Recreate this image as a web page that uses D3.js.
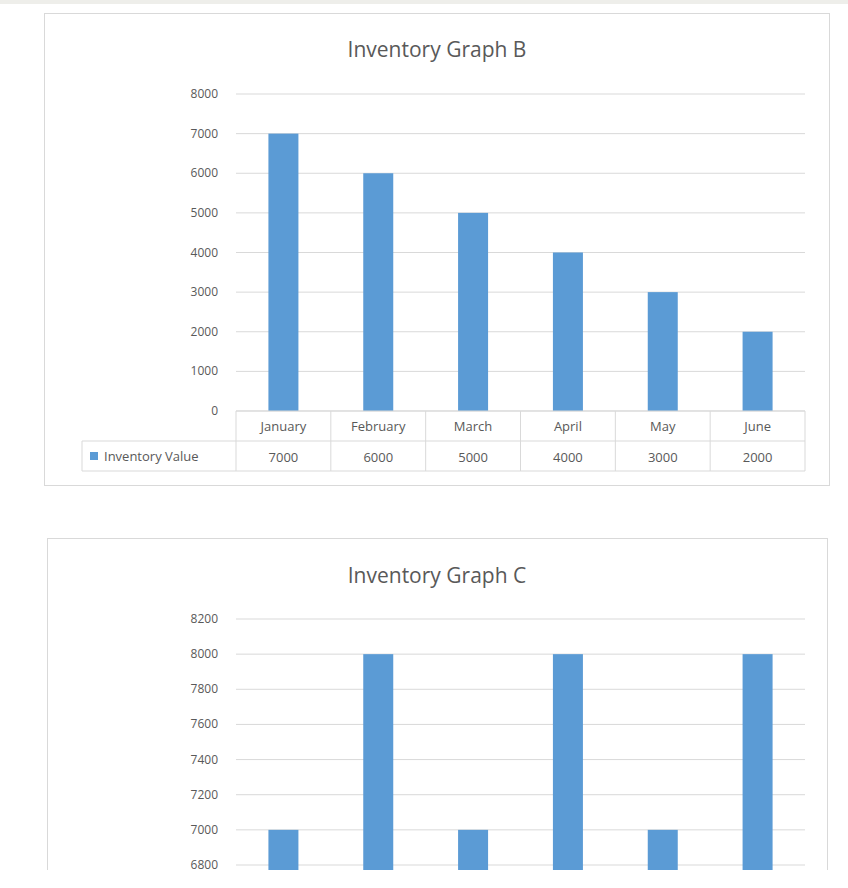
<!DOCTYPE html><html><head><meta charset="utf-8"><script src="https://cdn.jsdelivr.net/npm/d3@7"></script>
<style>body{margin:0;background:#fff}svg{display:block;font-family:"Open Sans",Calibri,sans-serif}</style></head><body><svg id="s" width="848" height="888"></svg>
<script>
const months=["January","February","March","April","May","June"];
const valuesB=[7000,6000,5000,4000,3000,2000];
const valuesC=[7000,8000,7000,8000,7000,8000];
const ticksB=[0,1000,2000,3000,4000,5000,6000,7000,8000];
const ticksC=[6800,7000,7200,7400,7600,7800,8000,8200];
const seriesName="Inventory Value";
const blue="#5b9bd5",grid="#d9d9d9",txt="#595959";
const svg=d3.select("#s");
svg.append("rect").attr("x",0).attr("y",0).attr("width",848).attr("height",4).attr("fill","#eeeeea");
const clip=svg.append("clipPath").attr("id","cp").append("rect").attr("x",0).attr("y",0).attr("width",848).attr("height",870);
const g=svg.append("g").attr("clip-path","url(#cp)");
function chart(box,title,titleY,vals,ticks,domain,yr,table){
  g.append("rect").attr("x",box[0]+.5).attr("y",box[1]+.5).attr("width",box[2]).attr("height",box[3]).attr("fill","#fff").attr("stroke",grid);
  g.append("text").attr("x",437).attr("y",titleY).attr("text-anchor","middle").attr("font-size",21).attr("fill",txt).text(title);
  const x=d3.scaleBand().domain(months).range([236,805]);
  const y=d3.scaleLinear().domain(domain).range(yr);
  ticks.forEach(t=>{
    g.append("line").attr("x1",236).attr("x2",805).attr("y1",y(t)).attr("y2",y(t)).attr("stroke",grid);
    g.append("text").attr("x",218).attr("y",y(t)+4).attr("text-anchor","end").attr("font-size",12).attr("fill",txt).text(t);
  });
  const bw=30;
  g.selectAll(null).data(vals).enter().append("rect").attr("fill",blue)
   .attr("x",(d,i)=>x(months[i])+x.bandwidth()/2-bw/2).attr("width",bw)
   .attr("y",d=>y(d)).attr("height",d=>Math.max(0,y(domain[0]<=0?0:domain[0]-1000)-y(d)));
  if(table){
    const y0=y(0),y1=y0+30,y2=y0+60;
    const L=(a,b,c,d)=>g.append("line").attr("x1",a).attr("y1",b).attr("x2",c).attr("y2",d).attr("stroke",grid);
    L(236,y0,805,y0);L(82,y1,805,y1);L(82,y2,805,y2);L(82,y1,82,y2);
    months.forEach((m,i)=>L(x(m),y0,x(m),y2));L(805,y0,805,y2);
    months.forEach((m,i)=>{
      const cx=x(m)+x.bandwidth()/2;
      g.append("text").attr("x",cx).attr("y",y0+20).attr("text-anchor","middle").attr("font-size",13).attr("fill",txt).text(m);
      g.append("text").attr("x",cx).attr("y",y1+21).attr("text-anchor","middle").attr("font-size",13).attr("fill",txt).text(vals[i]);
    });
    g.append("rect").attr("x",90).attr("y",y1+11).attr("width",8).attr("height",8).attr("fill",blue);
    g.append("text").attr("x",104).attr("y",y1+20).attr("font-size",13).attr("fill",txt).text(seriesName);
  }
}
chart([44,13,785,472],"Inventory Graph B",57,valuesB,ticksB,[0,8000],[411,94],true);
chart([47,538,780,400],"Inventory Graph C",583,valuesC,ticksC,[6800,8200],[865,619],false);
</script></body></html>
